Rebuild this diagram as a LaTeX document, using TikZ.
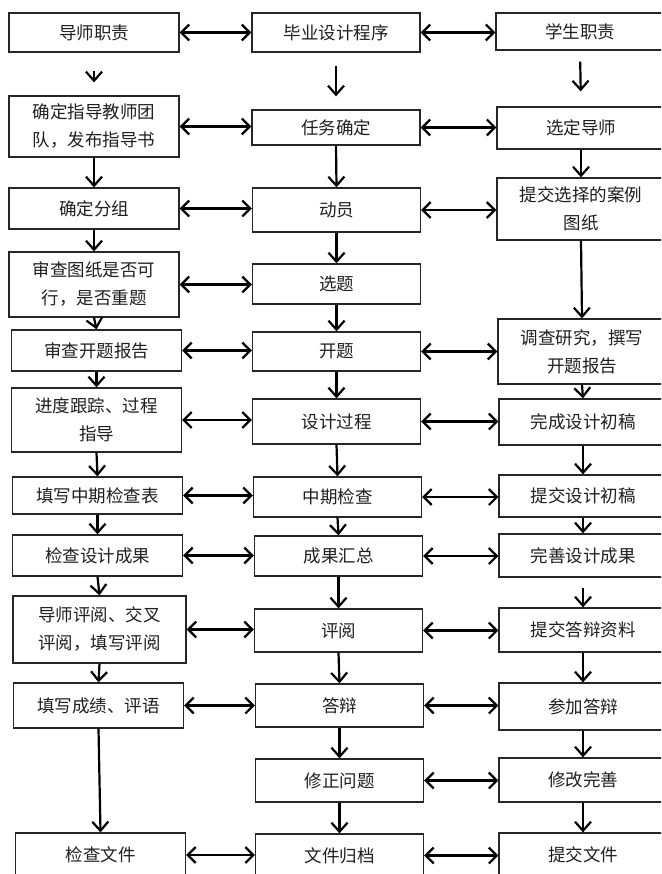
\documentclass[tikz,border=0pt]{standalone}
\usepackage{fontspec}
\setmainfont{Noto Sans CJK SC}
\usetikzlibrary{arrows.meta}
\tikzset{
  box/.style={draw=black!85, line width=1.3pt, align=center, inner sep=0pt,
    font=\fontsize{17.5}{28}\selectfont, text=black!88},
  lcol/.style={box, minimum width=170pt},
  mcol/.style={box, minimum width=168pt},
  rcol/.style={box, minimum width=168pt},
  harr/.style={line width=2.2pt, {Straight Barb[length=8pt,width=16pt]}-{Straight Barb[length=8pt,width=16pt]}},
  varr/.style={line width=2.2pt, -{Straight Barb[length=9pt,width=16pt]}},
}
\begin{document}
\begin{tikzpicture}[x=1pt,y=-1pt]
\clip (0,0) rectangle (661,874);
\fill[white] (0,0) rectangle (661,874);
% left column
\node[lcol, minimum height=39pt] (L1) at (94,32.5) {导师职责};
\node[lcol, minimum height=61pt] (L2) at (94,126.5) {确定指导教师团\\队，发布指导书};
\node[lcol, minimum height=41pt] (L3) at (94,208.5) {确定分组};
\node[lcol, minimum height=65pt] (L4) at (94,284.5) {审查图纸是否可\\行，是否重题};
\node[lcol, minimum height=41pt] (L5) at (96.5,350.5) {审查开题报告};
\node[lcol, minimum height=64pt] (L6) at (96.5,420) {进度跟踪、过程\\指导};
\node[lcol, minimum height=37pt] (L7) at (97.5,495.5) {填写中期检查表};
\node[lcol, minimum height=41pt] (L8) at (97.5,555.5) {检查设计成果};
\node[lcol, minimum width=173pt, minimum height=67pt] (L9) at (99.5,629.5) {导师评阅、交叉\\评阅，填写评阅};
\node[lcol, minimum height=45pt] (L10) at (98.5,705.5) {填写成绩、评语};
\node[lcol, minimum height=44pt] (L11) at (100.5,855) {检查文件};
% middle column
\node[mcol, minimum height=39pt] (M1) at (336,32.5) {毕业设计程序};
\node[mcol, minimum height=35pt] (M2) at (336,127.5) {任务确定};
\node[mcol, minimum height=44pt] (M3) at (336.5,210) {动员};
\node[mcol, minimum height=40pt] (M4) at (336.5,284) {选题};
\node[mcol, minimum height=39pt] (M5) at (336.5,351.5) {开题};
\node[mcol, minimum height=45pt] (M6) at (336.5,421.5) {设计过程};
\node[mcol, minimum height=40pt] (M7) at (337.5,497) {中期检查};
\node[mcol, minimum height=40pt] (M8) at (338.5,556) {成果汇总};
\node[mcol, minimum height=43pt] (M9) at (338.5,630.5) {评阅};
\node[mcol, minimum height=43pt] (M10) at (339.5,705.5) {答辩};
\node[mcol, minimum height=43pt] (M11) at (339.5,780.5) {修正问题};
\node[mcol, minimum height=43pt] (M12) at (339.5,855.5) {文件归档};
% right column
\node[rcol, minimum height=37pt] (R1) at (580,31.5) {学生职责};
\node[rcol, minimum height=42pt] (R2) at (581,128) {选定导师};
\node[rcol, minimum height=62pt] (R3) at (581,209) {提交选择的案例\\图纸};
\node[rcol, minimum height=65pt] (R4) at (582,351.5) {调查研究，撰写\\开题报告};
\node[rcol, minimum height=46pt] (R5) at (583,422) {完成设计初稿};
\node[rcol, minimum height=42pt] (R6) at (583,496) {提交设计初稿};
\node[rcol, minimum height=43pt] (R7) at (583,555.5) {完善设计成果};
\node[rcol, minimum height=44pt] (R8) at (583,630) {提交答辩资料};
\node[rcol, minimum height=47pt] (R9) at (583,706.5) {参加答辩};
\node[rcol, minimum height=44pt] (R10) at (583,780) {修改完善};
\node[rcol, minimum height=44pt] (R11) at (583,855) {提交文件};
% vertical arrows, left
\draw[varr, shorten <=18pt, shorten >=13pt] (L1.south) -- (L2.north);
\foreach \a/\b in {L2/L3,L3/L4,L4/L5,L5/L6,L6/L7,L7/L8,L8/L9,L9/L10,L10/L11}
  \draw[varr] (\a.south) -- (\b.north);
% vertical arrows, middle
\draw[varr, shorten <=13pt, shorten >=13pt] (M1.south) -- (M2.north);
\foreach \a/\b in {M2/M3,M3/M4,M4/M5,M5/M6,M6/M7,M7/M8,M8/M9,M9/M10,M10/M11,M11/M12}
  \draw[varr] (\a.south) -- (\b.north);
% vertical arrows, right
\draw[varr, shorten <=11pt, shorten >=15pt] (R1.south) -- (R2.north);
\draw[varr, shorten <=10pt] (R7.south) -- (R8.north);
\foreach \a/\b in {R2/R3,R3/R4,R4/R5,R5/R6,R6/R7,R8/R9,R9/R10,R10/R11}
  \draw[varr] (\a.south) -- (\b.north);
% horizontal arrows, left-middle
\foreach \a/\b in {L1/M1,L2/M2,L3/M3,L4/M4,L5/M5,L6/M6,L7/M7,L8/M8,L9/M9,L10/M10,L11/M12}
  \draw[harr] (\a.east) -- (\a.east -| \b.west);
% horizontal arrows, middle-right
\foreach \a/\b in {M1/R1,M2/R2,M3/R3,M5/R4,M6/R5,M7/R6,M8/R7,M9/R8,M10/R9,M11/R10,M12/R11}
  \draw[harr] (\a.east) -- (\a.east -| \b.west);
\end{tikzpicture}
\end{document}
